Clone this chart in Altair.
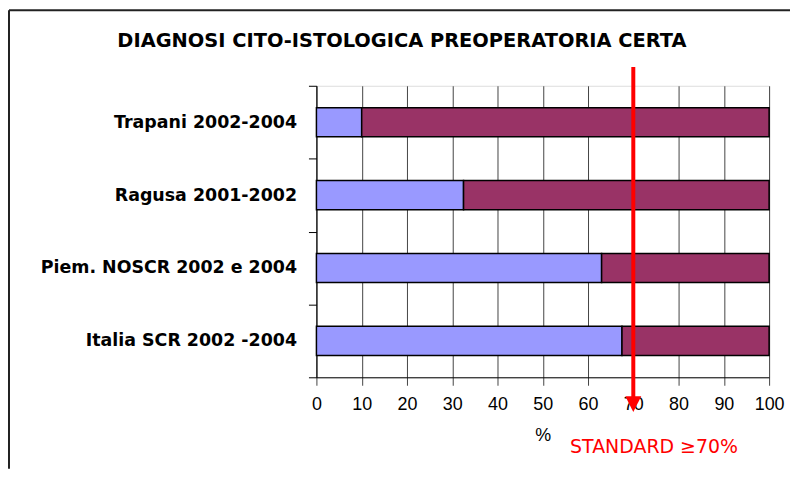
import altair as alt
import pandas as pd

categories = ["Trapani 2002-2004", "Ragusa 2001-2002", "Piem. NOSCR 2002 e 2004", "Italia SCR 2002 -2004"]
certa = [10, 32.5, 63, 67.5]
non_certa = [90, 67.5, 37, 32.5]
series = ["certa", "non certa"]
series_colors = ["#9999FF", "#993366"]
x_ticks = [0, 10, 20, 30, 40, 50, 60, 70, 80, 90, 100]
standard_value = 70
title_text = "DIAGNOSI CITO-ISTOLOGICA PREOPERATORIA CERTA"
standard_text = "STANDARD \u226570%"

rows = []
for c, a, b in zip(categories, certa, non_certa):
    rows.append({"cat": c, "serie": series[0], "val": a, "ord": 0})
    rows.append({"cat": c, "serie": series[1], "val": b, "ord": 1})
df = pd.DataFrame(rows)

W, H = 455, 293
PL, PT, PR, PB = 310, 77, 21, 92

xscale = alt.Scale(domain=[0, 100], nice=False)

bars = alt.Chart(df).mark_bar(
    height=alt.RelativeBandSize(0.4), stroke="black", strokeWidth=1.5
).encode(
    y=alt.Y("cat:N", sort=categories, title="",
            scale=alt.Scale(paddingInner=0, paddingOuter=0),
            axis=alt.Axis(labelFont="DejaVu Sans", labelFontWeight="bold", labelFontSize=17.5,
                          labelColor="black", labelPadding=12, tickBand="extent", tickSize=8,
                          tickColor="black", domainColor="black", grid=False, labelLimit=400)),
    x=alt.X("val:Q", stack="zero", scale=xscale, title="%",
            axis=alt.Axis(values=x_ticks, grid=True, gridColor="#444444", gridOpacity=1,
                          tickSize=8, tickColor="#444444", domainColor="black",
                          labelFont="Liberation Sans", labelFontSize=18, labelColor="black",
                          labelPadding=10, labelFlush=False,
                          titleFont="Liberation Sans", titleFontSize=18, titleFontWeight="normal",
                          titleColor="black", titlePadding=14)),
    color=alt.Color("serie:N", scale=alt.Scale(domain=series, range=series_colors), legend=None),
    order=alt.Order("ord:Q"),
)

arrow_line = alt.Chart().mark_rule(color="#FF0000", strokeWidth=4).encode(
    x=alt.datum(standard_value), y=alt.value(-19), y2=alt.value(316)
)
arrow_head = alt.Chart().mark_point(
    shape="M-1,-1L1,-1L0,1Z", filled=True, color="#FF0000", opacity=1, size=256
).encode(x=alt.datum(standard_value), y=alt.value(320))

title_mark = alt.Chart().mark_text(
    text=title_text, color="black", font="DejaVu Sans", fontSize=19.5, fontWeight="bold",
    align="center", baseline="middle"
).encode(x=alt.value(86), y=alt.value(-45))

std_label = alt.Chart().mark_text(
    text=standard_text, color="#FF0000", font="DejaVu Sans", fontSize=19, align="left", baseline="middle"
).encode(x=alt.value(255), y=alt.value(363))

border_left = alt.Chart().mark_rule(color="#222222", strokeWidth=2).encode(
    x=alt.value(-PL + 1), y=alt.value(-PT + 1), y2=alt.value(H + PB)
)
border_top = alt.Chart().mark_rule(color="#222222", strokeWidth=2).encode(
    x=alt.value(-PL + 1), x2=alt.value(W + PR), y=alt.value(-PT + 1)
)

chart = alt.layer(bars, arrow_line, arrow_head, title_mark, std_label, border_left, border_top).properties(
    width=W, height=H,
    autosize=alt.AutoSizeParams(type="none"),
    padding={"left": PL, "top": PT, "right": PR, "bottom": PB},
).configure_view(stroke="transparent").configure(background="white")

chart.save("out.html", embed_options={"renderer": "svg", "actions": False})
